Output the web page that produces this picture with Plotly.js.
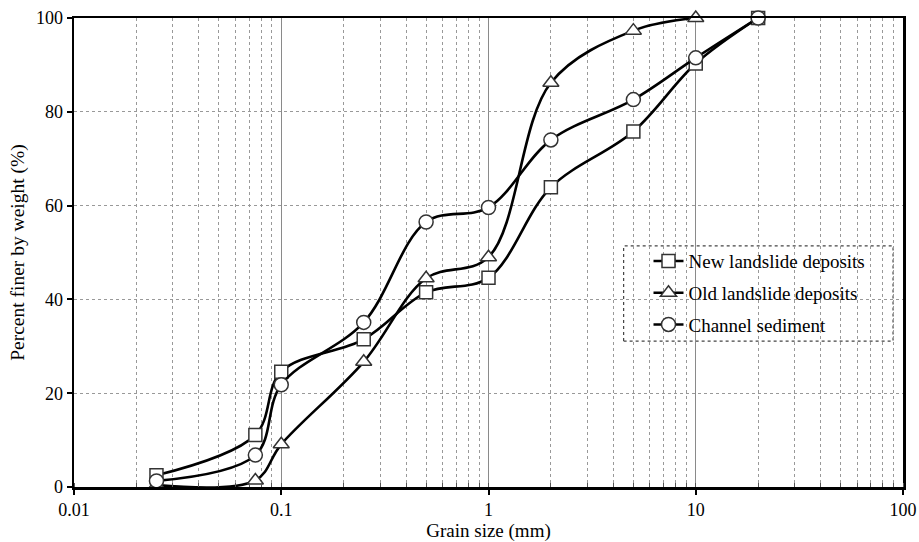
<!DOCTYPE html>
<html>
<head>
<meta charset="utf-8">
<script src="https://cdn.plot.ly/plotly-3.0.1.min.js"></script>
<style>
html,body{margin:0;padding:0;background:#fff;}
#chart{width:919px;height:542px;}
</style>
</head>
<body>
<div id="chart"></div>
<script>
// Grain size (mm)
const sizesNew = [0.025, 0.075, 0.1, 0.25, 0.5, 1, 2, 5, 10, 20];
const sizesOld = [0.025, 0.075, 0.1, 0.25, 0.5, 1, 2, 5, 10];
const sizesChannel = [0.025, 0.075, 0.1, 0.25, 0.5, 1, 2, 5, 10, 20];
// Percent finer by weight (%)
const newLandslide = [2.5, 11.1, 24.6, 31.5, 41.5, 44.6, 63.9, 75.8, 90.3, 100];
const oldLandslide = [0.4, 1.4, 9.1, 26.7, 44.5, 49.0, 86.2, 97.3, 100];
const channelSediment = [1.3, 6.8, 21.8, 35.1, 56.5, 59.6, 74.0, 82.6, 91.5, 100];

const seriesNames = ["New landslide deposits", "Old landslide deposits", "Channel sediment"];
const xTickVals = [0.01, 0.1, 1, 10, 100];
const xTickText = ["0.01", "0.1", "1", "10", "100"];
const yTickVals = [0, 20, 40, 60, 80, 100];
const yTickText = ["0", "20", "40", "60", "80", "100"];

const FONT = "Liberation Serif, Times New Roman, serif";

function mk(x, y, name, symbol, size, group) {
  return {
    x: x, y: y, name: name, type: "scatter", mode: "lines+markers",
    legendgroup: group,
    line: {color: "#000", width: 2.6, shape: "spline", smoothing: 1},
    marker: {symbol: symbol, size: size, color: "#fff", line: {color: "#333", width: 1.5}},
    cliponaxis: false
  };
}

const data = [
  mk(sizesNew, newLandslide, seriesNames[0], "square", 13, "a"),
  mk(sizesOld, oldLandslide, seriesNames[1], "triangle-up", 14, "b"),
  mk(sizesChannel, channelSediment, seriesNames[2], "circle", 14, "c")
];

const layout = {
  width: 919, height: 542,
  margin: {l: 74, r: 16, t: 18, b: 55},
  paper_bgcolor: "#fff", plot_bgcolor: "#fff",
  font: {family: FONT, size: 19, color: "#000"},
  showlegend: true,
  legend: {
    x: 0.693, y: 0.522, xanchor: "left", yanchor: "top",
    bgcolor: "rgba(0,0,0,0)", borderwidth: 0,
    font: {family: FONT, size: 19, color: "#000"},
    traceorder: "grouped", tracegroupgap: 4
  },
  xaxis: {
    type: "log", range: [-2, 2],
    tickmode: "array", tickvals: xTickVals, ticktext: xTickText,
    ticks: "outside", ticklen: 5, tickwidth: 2, tickcolor: "#000",
    showline: true, linecolor: "#000", linewidth: 2.5, mirror: true,
    showgrid: true, gridcolor: "#8a8a8a", gridwidth: 1,
    zeroline: false,
    minor: {dtick: "D1", showgrid: true, gridcolor: "#999", griddash: "dot", gridwidth: 1,
            ticks: "inside", ticklen: 4, tickcolor: "#555", tickwidth: 1},
    tickfont: {family: FONT, size: 18, color: "#000"},
    title: {text: "Grain size (mm)", font: {family: FONT, size: 19, color: "#000"}, standoff: 4}
  },
  yaxis: {
    range: [0, 100],
    tickmode: "array", tickvals: yTickVals, ticktext: yTickText,
    ticks: "outside", ticklen: 5, tickwidth: 2, tickcolor: "#000",
    showline: true, linecolor: "#000", linewidth: 2.5, mirror: true,
    showgrid: true, gridcolor: "#999", griddash: "dot", gridwidth: 1,
    zeroline: false,
    tickfont: {family: FONT, size: 18, color: "#000"},
    title: {text: "Percent finer by weight (%)", font: {family: FONT, size: 19.5, color: "#000"}, standoff: 6}
  },
  shapes: [{
    type: "rect", xref: "paper", yref: "paper",
    x0: 0.663, x1: 0.988, y0: 0.311, y1: 0.514,
    layer: "between", fillcolor: "#fff",
    line: {color: "#444", width: 1.2, dash: "dot"}
  }]
};

Plotly.newPlot("chart", data, layout, {displayModeBar: false, staticPlot: true});
</script>
</body>
</html>
